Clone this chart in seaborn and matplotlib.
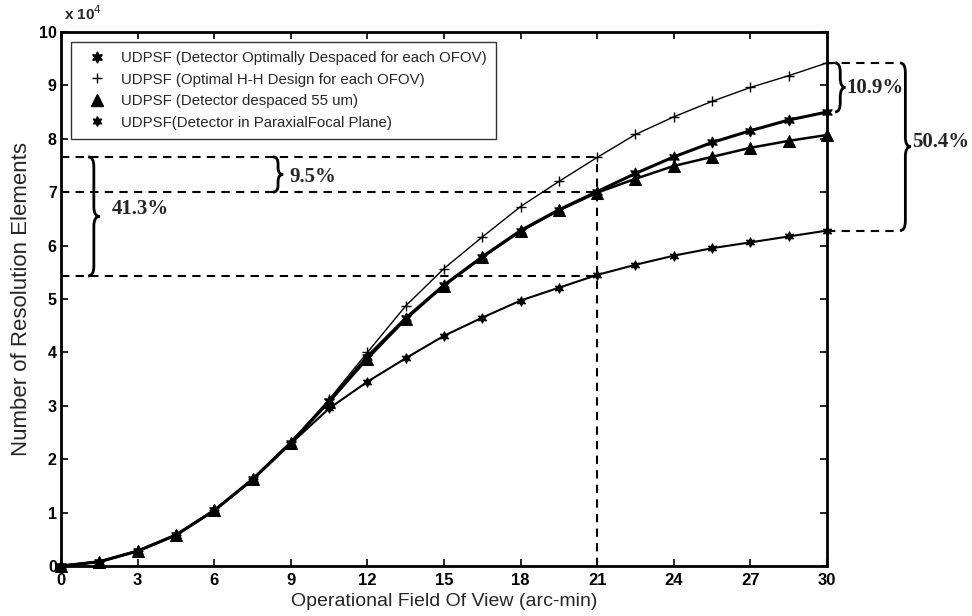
import numpy as np
import pandas as pd
import matplotlib
matplotlib.use("Agg")
import matplotlib.pyplot as plt
from matplotlib.path import Path
from matplotlib.patches import PathPatch
from matplotlib.lines import Line2D
import seaborn as sns

# ---------------- data (values in units of 10^4) ----------------
fov = [0, 1.5, 3, 4.5, 6, 7.5, 9, 10.5, 12, 13.5, 15, 16.5, 18, 19.5, 21,
       22.5, 24, 25.5, 27, 28.5, 30]
opt_despaced = [0.0, 0.08, 0.28, 0.58, 1.04, 1.62, 2.31, 3.08, 3.92, 4.64, 5.26,
                5.79, 6.28, 6.67, 7.01, 7.35, 7.66, 7.93, 8.15, 8.35, 8.50]
opt_hh = [0.0, 0.08, 0.28, 0.58, 1.04, 1.62, 2.32, 3.12, 4.00, 4.87, 5.57,
          6.16, 6.73, 7.20, 7.65, 8.08, 8.41, 8.70, 8.96, 9.18, 9.42]
despaced_55 = [0.0, 0.08, 0.28, 0.58, 1.04, 1.62, 2.31, 3.07, 3.88, 4.62, 5.25,
               5.78, 6.27, 6.66, 6.99, 7.25, 7.49, 7.66, 7.83, 7.96, 8.07]
paraxial = [0.0, 0.08, 0.28, 0.58, 1.04, 1.61, 2.29, 2.95, 3.45, 3.89, 4.31,
            4.65, 4.97, 5.21, 5.45, 5.64, 5.81, 5.95, 6.06, 6.17, 6.28]

labels = ["UDPSF (Detector Optimally Despaced for each OFOV)",
          "UDPSF (Optimal H-H Design for each OFOV)",
          "UDPSF (Detector despaced 55 um)",
          "UDPSF(Detector in ParaxialFocal Plane)"]
x_ticks = [0, 3, 6, 9, 12, 15, 18, 21, 24, 27, 30]
y_ticks = [0, 1, 2, 3, 4, 5, 6, 7, 8, 9, 10]

# ---------------- style ----------------
sns.set_style("ticks")
plt.rcParams['font.family'] = ['Liberation Sans', 'DejaVu Sans']

fig = plt.figure(figsize=(9.72, 6.16), dpi=100)
ax = fig.add_axes([0.0628, 0.0812, 0.788, 0.867])

series = [
    (opt_despaced, dict(marker=(6, 1, 0), markersize=8, linewidth=2.2)),
    (opt_hh,       dict(marker='+', markersize=7, linewidth=1.0, markeredgewidth=1.0)),
    (despaced_55,  dict(marker='^', markersize=8, linewidth=1.8)),
    (paraxial,     dict(marker=(6, 1, 0), markersize=7, linewidth=1.5)),
]
handles = []
for (vals, kw), lab in zip(series, labels):
    df = pd.DataFrame({"fov": fov, "val": vals})
    sns.lineplot(data=df, x="fov", y="val", ax=ax, color="black",
                 markerfacecolor="black", markeredgecolor="black",
                 clip_on=False, zorder=3, **kw)
    hkw = {k: v for k, v in kw.items() if k != 'linewidth'}
    handles.append(Line2D([], [], linestyle='none', color='black',
                          markerfacecolor='black', **hkw))

ax.set_xlim(0, 30)
ax.set_ylim(0, 10)
ax.set_xticks(x_ticks)
ax.set_yticks(y_ticks)
ax.set_xticklabels([str(t) for t in x_ticks], fontsize=12, fontweight='bold')
ax.set_yticklabels([str(t) for t in y_ticks], fontsize=11.5, fontweight='bold')
ax.tick_params(direction='in', length=5, width=1.2, top=True, right=True,
               colors='black')
ax.tick_params(axis='x', pad=5)
ax.tick_params(axis='y', pad=3)
for s in ax.spines.values():
    s.set_linewidth(2.0)
    s.set_color('black')
    s.set_visible(True)

ax.set_xlabel("Operational Field Of View (arc-min)", fontsize=14, labelpad=4)
ax.set_ylabel("Number of Resolution Elements", fontsize=16, labelpad=5)
ax.text(0.004, 1.017, r"x 10$^{4}$", transform=ax.transAxes, fontsize=11,
        fontweight='bold', va='bottom', ha='left')

leg = ax.legend(handles=handles, labels=labels, loc='upper left',
                bbox_to_anchor=(0.013, 0.981), fontsize=10.8, frameon=True,
                fancybox=False, edgecolor='black', handlelength=2.3,
                handletextpad=0.45, borderpad=0.6, labelspacing=0.5,
                borderaxespad=0)
leg.get_frame().set_linewidth(1.0)

# ---------------- annotations ----------------
dash = dict(color='black', linewidth=1.5, linestyle=(0, (4, 3)), zorder=2)
ax.plot([0, 21], [7.66, 7.66], **dash)
ax.plot([0, 21], [7.00, 7.00], **dash)
ax.plot([0, 21], [5.43, 5.43], **dash)
ax.plot([21, 21], [0, 7.66], **dash)
ax.plot([30, 32.86], [9.42, 9.42], clip_on=False, **dash)
ax.plot([30, 32.86], [6.28, 6.28], clip_on=False, **dash)


def brace(x, y0, y1, w):
    ym = (y0 + y1) / 2.0
    xm = x + w * 0.5
    r = min(0.18, (y1 - y0) * 0.2)
    verts = [(x, y0), (xm, y0), (xm, y0 + r),
             (xm, ym - r), (xm, ym), (x + w, ym),
             (xm, ym), (xm, ym + r),
             (xm, y1 - r), (xm, y1), (x, y1)]
    codes = [Path.MOVETO, Path.CURVE3, Path.CURVE3,
             Path.LINETO, Path.CURVE3, Path.CURVE3,
             Path.CURVE3, Path.CURVE3,
             Path.LINETO, Path.CURVE3, Path.CURVE3]
    p = PathPatch(Path(verts, codes), facecolor='none', edgecolor='black',
                  linewidth=2.0, clip_on=False, zorder=4)
    ax.add_patch(p)


brace(1.06, 5.43, 7.66, 0.45)
brace(8.30, 7.00, 7.66, 0.40)
brace(30.32, 8.50, 9.42, 0.40)
brace(32.86, 6.28, 9.42, 0.42)

tfont = dict(family=['Liberation Serif', 'DejaVu Serif'], fontweight='bold',
             fontsize=15, va='center', ha='left')
ax.text(2.0, 6.69, "41.3%", **tfont)
ax.text(8.95, 7.29, "9.5%", **tfont)
ax.text(30.75, 8.95, "10.9%", clip_on=False, **tfont)
ax.text(33.32, 7.94, "50.4%", clip_on=False, **tfont)

fig.savefig("out.png", dpi=100)
